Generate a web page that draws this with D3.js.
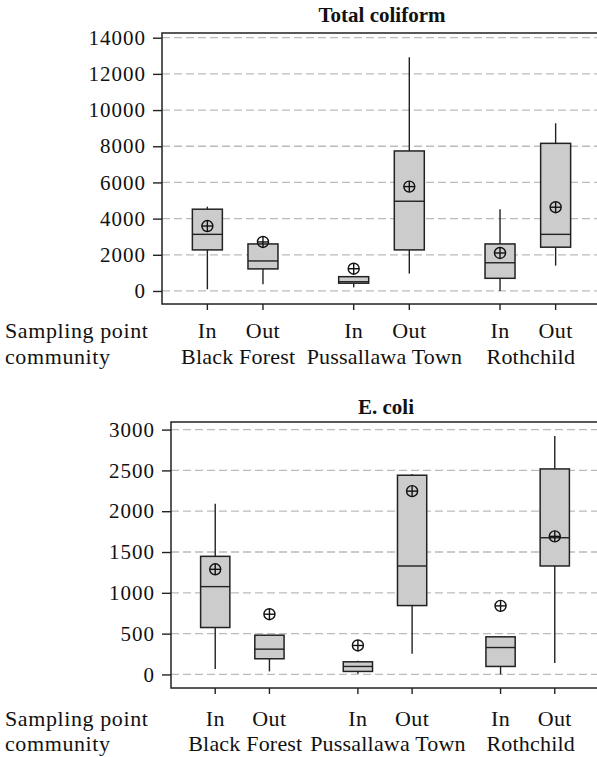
<!DOCTYPE html>
<html lang="en">
<head>
<meta charset="UTF-8">
<title>Total coliform and E. coli by sampling point</title>
<script src="https://d3js.org/d3.v7.min.js"></script>
<style>
    body { margin: 0; background: #fff; }
    .grid line { stroke: #bbb; stroke-width: 1.3px; stroke-dasharray: 8,4; }
    .frame { fill: none; stroke: #222; stroke-width: 1.5px; }
    .box { fill: #cccccc; stroke: #222; stroke-width: 1.5px; }
    .whisker, .median { stroke: #222; stroke-width: 1.4px; }
    .mean circle { fill: none; stroke: #111; stroke-width: 1.4px; }
    .mean line { stroke: #111; stroke-width: 1.4px; }
</style>
</head>
<body>
<svg width="597" height="757"></svg>
<script>
// categories
const groups = ["Black Forest", "Pussallawa Town", "Rothchild"];
const points = ["In", "Out"];

// Total coliform: one value per box, order BF In, BF Out, PT In, PT Out, R In, R Out
const tcLow  = [90, 370, 200, 960, 0, 1400];
const tcQ1   = [2270, 1220, 430, 2270, 700, 2420];
const tcMed  = [3130, 1660, 510, 4960, 1560, 3130];
const tcQ3   = [4520, 2600, 790, 7740, 2600, 8160];
const tcHigh = [4660, 2600, 790, 12920, 4520, 9270];
const tcMean = [3590, 2710, 1230, 5770, 2100, 4630];
const tcTicks = [0, 2000, 4000, 6000, 8000, 10000, 12000, 14000];

// E. coli
const ecLow  = [66, 37, 8, 253, 0, 139];
const ecQ1   = [575, 192, 37, 844, 98, 1329];
const ecMed  = [1076, 310, 98, 1329, 330, 1675];
const ecQ3   = [1447, 481, 155, 2441, 461, 2518];
const ecHigh = [2090, 481, 167, 2457, 461, 2922];
const ecMean = [1288, 738, 355, 2246, 840, 1692];
const ecTicks = [0, 500, 1000, 1500, 2000, 2500, 3000];

const FONT = "'Liberation Serif', 'Times New Roman', serif";
const svg = d3.select("svg");

function rows(low, q1, med, q3, high, mean) {
    const out = [];
    groups.forEach((g, gi) => {
        points.forEach((p, pi) => {
            const i = gi * 2 + pi;
            out.push({ group: g, point: p, low: low[i], q1: q1[i], med: med[i], q3: q3[i], high: high[i], mean: mean[i] });
        });
    });
    return out;
}

function label(sel, size, weight, spacing) {
    return sel.style("font-family", FONT).style("font-size", size + "px")
        .style("font-weight", weight || "normal").style("fill", "#111")
        .style("letter-spacing", (spacing || 0) + "px");
}

function drawPanel(cfg) {
    const { left, right, top, bottom, domain, ticks, data, title } = cfg;

    const y = d3.scaleLinear().domain(domain).range([bottom, top]);
    const xg = d3.scaleBand().domain(groups).range([left, right]);
    const xs = d3.scaleOrdinal().domain(points).range([-0.19, 0.19]);
    const cx = d => xg(d.group) + xg.bandwidth() / 2 + xs(d.point) * xg.bandwidth();
    const bw = xg.bandwidth() * 0.205;

    const g = svg.append("g");

    // grid lines
    g.append("g").attr("class", "grid")
        .selectAll("line").data(ticks).enter().append("line")
        .attr("x1", left).attr("x2", right)
        .attr("y1", d => y(d)).attr("y2", d => y(d));

    // whiskers
    g.selectAll(".whisker").data(data).enter().append("line")
        .attr("class", "whisker")
        .attr("x1", cx).attr("x2", cx)
        .attr("y1", d => y(d.low)).attr("y2", d => y(d.high));

    // boxes
    g.selectAll(".box").data(data).enter().append("rect")
        .attr("class", "box")
        .attr("x", d => cx(d) - bw / 2).attr("width", bw)
        .attr("y", d => y(d.q3)).attr("height", d => y(d.q1) - y(d.q3));

    g.selectAll(".median").data(data).enter().append("line")
        .attr("class", "median")
        .attr("x1", d => cx(d) - bw / 2).attr("x2", d => cx(d) + bw / 2)
        .attr("y1", d => y(d.med)).attr("y2", d => y(d.med));

    // mean markers (circle with plus)
    const r = 5.5;
    const m = g.selectAll(".mean").data(data).enter().append("g")
        .attr("class", "mean")
        .attr("transform", d => `translate(${cx(d)},${y(d.mean)})`);
    m.append("circle").attr("r", r);
    m.append("line").attr("x1", -r).attr("x2", r);
    m.append("line").attr("y1", -r).attr("y2", r);

    // frame
    g.append("rect").attr("class", "frame")
        .attr("x", left).attr("y", top)
        .attr("width", right - left).attr("height", bottom - top);

    // y axis
    const ya = g.append("g")
        .attr("transform", `translate(${left},0)`)
        .call(d3.axisLeft(y).tickValues(ticks).tickSize(9).tickPadding(7).tickFormat(d3.format("d")));
    ya.select(".domain").remove();
    ya.selectAll(".tick line").attr("stroke", "#222").attr("stroke-width", 1.4);
    label(ya.selectAll(".tick text"), 21, "normal", 1);

    // x ticks
    g.selectAll(".xt").data(data).enter().append("line")
        .attr("stroke", "#222").attr("stroke-width", 1.4)
        .attr("x1", cx).attr("x2", cx)
        .attr("y1", bottom).attr("y2", bottom + 6);

    label(g.selectAll(".pl").data(data).enter().append("text"), 22, "normal", 0.4)
        .attr("x", cx).attr("y", bottom + cfg.row1)
        .attr("text-anchor", "middle")
        .text(d => d.point);

    label(g.selectAll(".gl").data(groups).enter().append("text"), 22, "normal", 0.2)
        .attr("x", d => xg(d) + xg.bandwidth() / 2 + 3).attr("y", bottom + cfg.row2)
        .attr("text-anchor", "middle")
        .text(d => d);

    label(g.append("text"), 22, "normal", 0.6).attr("x", 5).attr("y", bottom + cfg.row1).text("Sampling point");
    label(g.append("text"), 22, "normal", 0.6).attr("x", 5).attr("y", bottom + cfg.row2).text("community");

    label(g.append("text"), 21, "bold")
        .attr("x", cfg.titleX).attr("y", top - cfg.titleGap)
        .attr("text-anchor", "middle")
        .text(title);
}

drawPanel({
    title: "Total coliform",
    left: 162, right: 601, top: 33, bottom: 304,
    domain: [-720, 14260], ticks: tcTicks,
    data: rows(tcLow, tcQ1, tcMed, tcQ3, tcHigh, tcMean),
    row1: 34, row2: 60, titleX: 382, titleGap: 11
});

drawPanel({
    title: "E. coli",
    left: 171, right: 599, top: 422, bottom: 688,
    domain: [-166, 3093], ticks: ecTicks,
    data: rows(ecLow, ecQ1, ecMed, ecQ3, ecHigh, ecMean),
    row1: 38, row2: 63, titleX: 386, titleGap: 8
});
</script>
</body>
</html>
